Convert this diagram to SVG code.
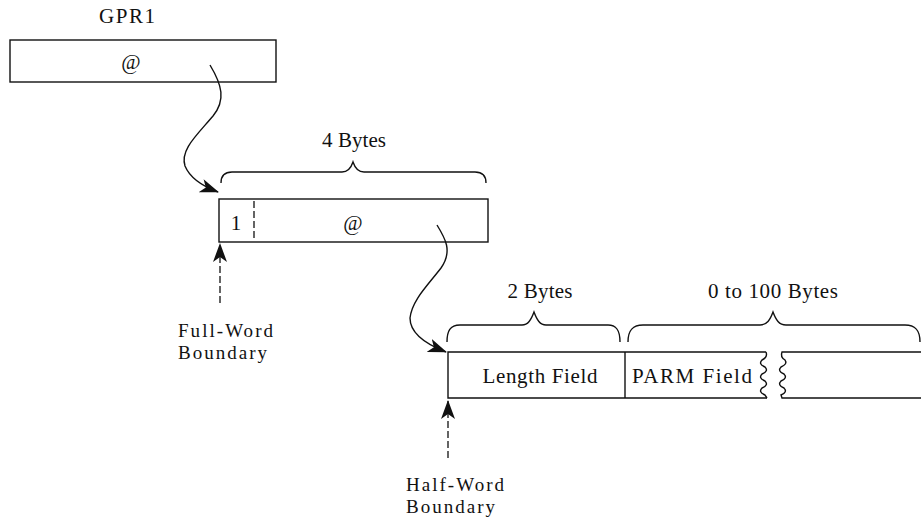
<svg xmlns="http://www.w3.org/2000/svg" width="921" height="520" viewBox="0 0 921 520">
  <style>
    .ln { fill: none; stroke: #111; stroke-width: 1.4; }
    .dash { fill: none; stroke: #111; stroke-width: 1.3; stroke-dasharray: 7 3; }
    .t { font-family: "Liberation Serif", "Times New Roman", serif; font-size: 21px; fill: #111; }
    .s { font-size: 19px; }
    .c { text-anchor: middle; }
  </style>
  <defs>
    <marker id="head" markerWidth="19" markerHeight="14" refX="18" refY="7" orient="auto" markerUnits="userSpaceOnUse">
      <path d="M0,0 L19,7 L0,14 L5,7 Z" fill="#111"/>
    </marker>
  </defs>
  <rect width="921" height="520" fill="#fff"/>

  <!-- general purpose register 1 -->
  <g id="gpr1">
    <text class="t c" x="127" y="23" textLength="56">GPR1</text>
    <rect class="ln" x="10" y="40" width="266" height="42"/>
    <text class="t c" x="131" y="69">@</text>
  </g>

  <!-- 4-byte pointer word -->
  <g id="pointer-word">
    <text class="t c" x="354" y="147" textLength="64">4 Bytes</text>
    <path class="ln" d="M221,183 C221,176 224,172 232,172 L342,172 C348,172 351,168 353,162 C355,168 358,172 364,172 L475,172 C483,172 486,176 486,183"/>
    <rect class="ln" x="219" y="199" width="269" height="43"/>
    <line class="dash" x1="254" y1="201" x2="254" y2="240" stroke-dasharray="5 3"/>
    <text class="t c" x="236" y="230">1</text>
    <text class="t c" x="353" y="230">@</text>
  </g>

  <!-- full-word boundary marker -->
  <g id="full-word">
    <text class="t s" x="178" y="337" textLength="95">Full-Word</text>
    <text class="t s" x="178" y="359" textLength="89">Boundary</text>
  </g>

  <!-- parameter list -->
  <g id="parm-list">
    <text class="t c" x="540" y="298" textLength="65">2 Bytes</text>
    <text class="t c" x="773" y="298" textLength="130">0 to 100 Bytes</text>
    <path class="ln" d="M447,342 C447,331 450,325 460,325 L522,325 C528,325 531,320 534,312 C537,320 540,325 546,325 L608,325 C617,325 620,331 620,342"/>
    <path class="ln" d="M628,342 C628,331 632,325 643,325 L760,325 C767,325 770,320 773,312 C776,320 779,325 786,325 L905,325 C916,325 920,331 920,342"/>
    <path class="ln" d="M766,352 L448,352 L448,398 L767,398"/>
    <line class="ln" x1="625" y1="352" x2="625" y2="398"/>
    <path class="ln" d="M766,352 Q768,357 762,360 Q758,364 765,367 Q769,371 762,374 Q758,378 765,381 Q769,385 762,388 Q758,392 765,395 L767,398"/>
    <path class="ln" d="M921,352 L782,352 Q780,357 785,360 Q788,364 781,367 Q777,371 784,374 Q788,378 781,381 Q777,385 784,388 Q788,392 781,395 L782,398 L921,398"/>
    <text class="t c" x="540" y="383" textLength="115">Length Field</text>
    <text class="t" x="632" y="383" textLength="120">PARM Field</text>
  </g>

  <!-- half-word boundary marker -->
  <g id="half-word">
    <text class="t s" x="406" y="491" textLength="98">Half-Word</text>
    <text class="t s" x="406" y="513" textLength="89">Boundary</text>
  </g>

  <!-- connectors -->
  <g id="connectors">
    <path class="ln" d="M210,65 C222,85 226,100 213,116 C196,136 180,150 185,166 C190,178 202,186 218,192" marker-end="url(#head)"/>
    <path class="ln" d="M437,225 C445,238 453,251 441,268 C428,285 412,300 410,318 C410,334 428,345 446,352" marker-end="url(#head)"/>
    <line class="dash" x1="220" y1="303" x2="220" y2="244" marker-end="url(#head)"/>
    <line class="dash" x1="448" y1="458" x2="448" y2="401" marker-end="url(#head)"/>
  </g>
</svg>
